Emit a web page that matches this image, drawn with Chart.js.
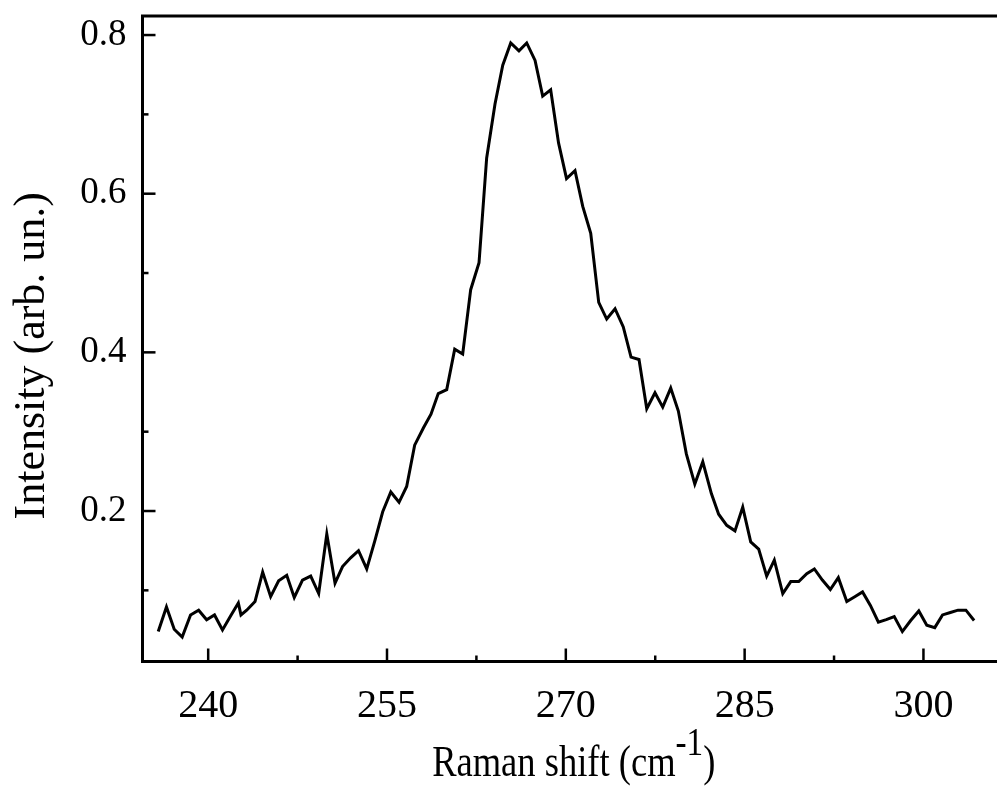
<!DOCTYPE html>
<html>
<head>
<meta charset="utf-8">
<title>Raman spectrum</title>
<script src="https://cdn.jsdelivr.net/npm/chart.js@4.4.1/dist/chart.umd.min.js"></script>
<style>
  html, body { margin: 0; padding: 0; background: #fff; }
  canvas { display: block; }
</style>
</head>
<body>
<canvas id="ramanChart" width="997" height="787"></canvas>
<script>
// Spectre Raman : intensité en fonction du décalage Raman

const ramanShift = [
  235.81, 236.50, 237.15, 237.82, 238.52, 239.20, 239.87, 240.53, 241.20, 241.89,
  242.53, 242.75, 243.23, 243.93, 244.57, 245.24, 245.91, 246.59, 247.22, 247.91,
  248.60, 249.27, 249.95, 250.64, 251.27, 251.95, 252.61, 253.30, 253.99, 254.64,
  255.32, 256.01, 256.65, 257.32, 258.06, 258.69, 259.30, 260.01, 260.68, 261.35,
  262.02, 262.72, 263.36, 264.06, 264.71, 265.38, 266.07, 266.72, 267.42, 268.06,
  268.73, 269.39, 270.06, 270.77, 271.42, 272.09, 272.76, 273.43, 274.13, 274.82,
  275.47, 276.14, 276.79, 277.48, 278.13, 278.80, 279.44, 280.11, 280.82, 281.49,
  282.21, 282.82, 283.50, 284.19, 284.84, 285.51, 286.18, 286.85, 287.49, 288.20,
  288.87, 289.54, 290.21, 290.85, 291.52, 292.19, 292.86, 293.57, 294.24, 294.89,
  295.55, 296.22, 296.88, 297.55, 298.23, 298.93, 299.61, 300.28, 300.95, 301.60,
  302.26, 302.90, 303.56, 304.25
];

const intensity = [
  0.048, 0.079, 0.051, 0.041, 0.069, 0.075, 0.063, 0.069, 0.050, 0.068,
  0.084, 0.069, 0.075, 0.086, 0.123, 0.092, 0.112, 0.119, 0.091, 0.113,
  0.118, 0.096, 0.171, 0.109, 0.130, 0.141, 0.150, 0.127, 0.163, 0.199,
  0.224, 0.211, 0.231, 0.283, 0.305, 0.322, 0.348, 0.353, 0.404, 0.398,
  0.479, 0.513, 0.645, 0.713, 0.762, 0.790, 0.780, 0.790, 0.768, 0.723,
  0.731, 0.664, 0.619, 0.629, 0.584, 0.550, 0.463, 0.442, 0.455, 0.432,
  0.394, 0.391, 0.329, 0.349, 0.331, 0.355, 0.326, 0.272, 0.234, 0.262,
  0.222, 0.196, 0.182, 0.175, 0.205, 0.161, 0.152, 0.118, 0.138, 0.096,
  0.111, 0.111, 0.121, 0.127, 0.113, 0.101, 0.116, 0.086, 0.092, 0.098,
  0.081, 0.060, 0.063, 0.067, 0.048, 0.062, 0.074, 0.056, 0.053, 0.069,
  0.072, 0.075, 0.075, 0.062
];

const xMajorTicks = [240, 255, 270, 285, 300];
const xMinorTicks = [247.5, 262.5, 277.5, 292.5];
const yMajorTicks = [0.2, 0.4, 0.6, 0.8];
const yMinorTicks = [0.1, 0.3, 0.5, 0.7];

const xTitle = "Raman shift (cm";
const xTitleSup = "-1";
const xTitleEnd = ")";
const yTitle = "Intensity (arb. un.)";

const serif = "'Liberation Serif', 'Times New Roman', serif";

// cadre du haut, graduations intérieures et titres des axes
const frameAndTitles = {
  id: "frameAndTitles",
  afterDraw(chart) {
    const { ctx, chartArea, scales } = chart;
    ctx.save();
    ctx.strokeStyle = "#000";
    ctx.lineWidth = 3;

    ctx.beginPath();
    ctx.moveTo(chartArea.left - 1.5, chartArea.top);
    ctx.lineTo(chartArea.right, chartArea.top);
    ctx.stroke();

    const tick = (x1, y1, x2, y2) => {
      ctx.beginPath();
      ctx.moveTo(x1, y1);
      ctx.lineTo(x2, y2);
      ctx.stroke();
    };
    ctx.lineWidth = 2.5;
    xMajorTicks.forEach((v) => {
      const px = scales.x.getPixelForValue(v);
      tick(px, chartArea.bottom, px, chartArea.bottom - 13);
    });
    xMinorTicks.forEach((v) => {
      const px = scales.x.getPixelForValue(v);
      tick(px, chartArea.bottom, px, chartArea.bottom - 6);
    });
    yMajorTicks.forEach((v) => {
      const py = scales.y.getPixelForValue(v);
      tick(chartArea.left, py, chartArea.left + 13, py);
    });
    yMinorTicks.forEach((v) => {
      const py = scales.y.getPixelForValue(v);
      tick(chartArea.left, py, chartArea.left + 6, py);
    });

    // titre de l'axe x avec exposant
    ctx.fillStyle = "#000";
    ctx.textBaseline = "alphabetic";
    ctx.textAlign = "left";
    ctx.font = "44px " + serif;
    const wMain = ctx.measureText(xTitle).width;
    const wEnd = ctx.measureText(xTitleEnd).width;
    ctx.font = "40px " + serif;
    const wSup = ctx.measureText(xTitleSup).width;
    const squeeze = 0.83;
    const total = (wMain + wSup + wEnd) * squeeze;
    const cx = (chartArea.left + chartArea.right) / 2 + 4;
    ctx.save();
    ctx.translate(cx - total / 2, chartArea.bottom + 114);
    ctx.scale(squeeze, 1);
    ctx.font = "44px " + serif;
    ctx.fillText(xTitle, 0, 0);
    ctx.font = "40px " + serif;
    ctx.fillText(xTitleSup, wMain, -21);
    ctx.font = "44px " + serif;
    ctx.fillText(xTitleEnd, wMain + wSup, 0);
    ctx.restore();

    // titre de l'axe y
    ctx.save();
    ctx.translate(32, (chartArea.top + chartArea.bottom) / 2 + 17);
    ctx.rotate(-Math.PI / 2);
    ctx.textAlign = "center";
    ctx.textBaseline = "middle";
    ctx.font = "44px " + serif;
    ctx.fillText(yTitle, 0, 0);
    ctx.restore();

    ctx.restore();
  },
};

document.addEventListener("DOMContentLoaded", function () {
  const points = ramanShift.map((x, i) => ({ x: x, y: intensity[i] }));

  const ctx = document.getElementById("ramanChart").getContext("2d");
  new Chart(ctx, {
    type: "line",
    data: {
      datasets: [
        {
          label: "Intensity",
          data: points,
          borderColor: "#000",
          borderWidth: 3,
          pointRadius: 0,
          tension: 0,
          fill: false,
        },
      ],
    },
    options: {
      responsive: false,
      animation: false,
      devicePixelRatio: 1,
      layout: { padding: { top: 16, right: 0, left: 0, bottom: 0 } },
      plugins: {
        legend: { display: false },
        tooltip: { enabled: false },
      },
      scales: {
        x: {
          type: "linear",
          min: 234.49,
          max: 306.17,
          grid: { display: false, drawTicks: false },
          border: { display: true, color: "#000", width: 3 },
          afterBuildTicks: (axis) => {
            axis.ticks = xMajorTicks.map((v) => ({ value: v }));
          },
          afterFit: (scale) => {
            scale.height = 125.5;
            scale.paddingLeft = 0;
            scale.paddingRight = 0;
          },
          ticks: {
            color: "#000",
            padding: 21,
            maxRotation: 0,
            font: { family: serif, size: 40 },
            callback: (v) => String(v),
          },
        },
        y: {
          type: "linear",
          min: 0.0103,
          max: 0.824,
          grid: { display: false, drawTicks: false },
          border: { display: true, color: "#000", width: 3 },
          afterBuildTicks: (axis) => {
            axis.ticks = yMajorTicks.map((v) => ({ value: v }));
          },
          afterFit: (scale) => {
            scale.width = 142.5;
            scale.paddingTop = 0;
            scale.paddingBottom = 0;
          },
          ticks: {
            color: "#000",
            padding: 16,
            font: { family: serif, size: 37 },
            callback: (v) => Number(v).toFixed(1),
          },
        },
      },
    },
    plugins: [frameAndTitles],
  });
});
</script>
</body>
</html>
